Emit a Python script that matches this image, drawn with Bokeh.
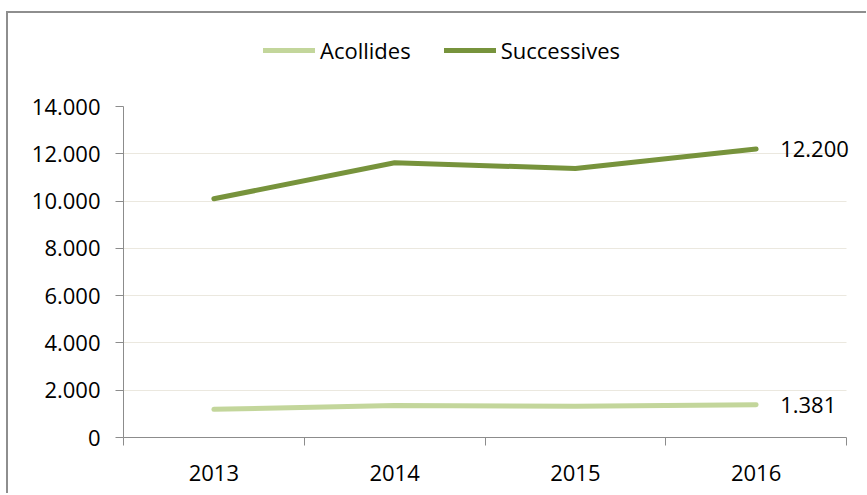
from bokeh.plotting import figure
from bokeh.layouts import column
from bokeh.models import ColumnDataSource, FixedTicker, Legend, LegendItem, LabelSet
from bokeh.core.properties import value
from bokeh.embed import file_html
from bokeh.resources import INLINE

years = ["2013", "2014", "2015", "2016"]
acollides = [1190, 1350, 1320, 1381]
successives = [10100, 11620, 11380, 12200]
y_ticks = [0, 2000, 4000, 6000, 8000, 10000, 12000, 14000]
y_tick_labels = ["0", "2.000", "4.000", "6.000", "8.000", "10.000", "12.000", "14.000"]
end_labels = ["1.381", "12.200"]
series_names = ["Acollides", "Successives"]

FONT = "Open Sans"
FS = "22px"
C_ACO = "#c3d69b"
C_SUC = "#77933c"
AXIS_C = "#8c8c8c"
W = 858
N = len(years)
# extra room right of the last category (in category units) for the end labels
X_PAD = 20 / 180.75

xs = [i + 0.5 for i in range(N)]
src_a = ColumnDataSource(dict(x=xs, y=acollides))
src_s = ColumnDataSource(dict(x=xs, y=successives))

# ---- legend strip (top) ----
lg = figure(width=W, height=60, output_backend="svg", toolbar_location=None,
            x_axis_type=None, y_axis_type=None, min_border=0, min_border_right=0,
            x_range=(0, 1), y_range=(-1, 0))
lg.outline_line_color = None
lg.xgrid.grid_line_color = None
lg.ygrid.grid_line_color = None
# same series, out of this strip's view: only their legend samples show
la = lg.line("x", "y", source=src_a, line_color=C_ACO, line_width=5, line_cap="round")
ls = lg.line("x", "y", source=src_s, line_color=C_SUC, line_width=5, line_cap="round")
legend = Legend(items=[LegendItem(label=series_names[0], renderers=[la]),
                       LegendItem(label=series_names[1], renderers=[ls])],
                orientation="horizontal", location=(140, 8),
                glyph_width=52, glyph_height=24, label_standoff=5, spacing=33,
                padding=0, margin=0, border_line_alpha=0, background_fill_alpha=0,
                label_text_font=FONT, label_text_font_size=FS, label_text_color="black",
                label_height=24)
lg.add_layout(legend, "center")

# ---- main chart ----
p = figure(width=W, height=420, output_backend="svg", toolbar_location=None,
           x_range=(0, N + X_PAD), y_range=(0, 14000),
           min_border_left=115, min_border_right=0, min_border_top=33, min_border_bottom=56)
p.outline_line_color = None
p.background_fill_color = "white"
p.border_fill_color = "white"

p.line("x", "y", source=src_a, line_color=C_ACO, line_width=5, line_cap="round", line_join="round")
p.line("x", "y", source=src_s, line_color=C_SUC, line_width=5, line_cap="round", line_join="round")

p.xaxis.bounds = (0, N)
p.xaxis.ticker = FixedTicker(ticks=xs, minor_ticks=list(range(N + 1)))
p.xaxis.major_label_overrides = {x: y for x, y in zip(xs, years)}
p.xaxis.major_tick_in = 0
p.xaxis.major_tick_out = 0
p.xaxis.minor_tick_in = 0
p.xaxis.minor_tick_out = 8
p.xaxis.minor_tick_line_color = AXIS_C
p.xaxis.axis_line_color = AXIS_C
p.xaxis.major_label_standoff = 19
p.xaxis.major_label_text_font = FONT
p.xaxis.major_label_text_font_size = FS
p.xaxis.major_label_text_color = "black"

p.yaxis.ticker = FixedTicker(ticks=y_ticks)
p.yaxis.major_label_overrides = {t: l for t, l in zip(y_ticks, y_tick_labels)}
p.yaxis.major_tick_in = 0
p.yaxis.major_tick_out = 8
p.yaxis.minor_tick_line_color = None
p.yaxis.major_tick_line_color = AXIS_C
p.yaxis.axis_line_color = AXIS_C
p.yaxis.major_label_standoff = 15
p.yaxis.major_label_text_font = FONT
p.yaxis.major_label_text_font_size = FS
p.yaxis.major_label_text_color = "black"

p.xgrid.grid_line_color = None
p.ygrid.ticker = FixedTicker(ticks=y_ticks[1:])
p.ygrid.cross_bounds = (0, N)
p.ygrid.grid_line_color = "#ebe8df"
p.ygrid.grid_line_width = 1

lab_src = ColumnDataSource(dict(x=[xs[-1], xs[-1]], y=[acollides[-1], successives[-1]], t=end_labels))
p.add_layout(LabelSet(x="x", y="y", text="t", source=lab_src, x_offset=24,
                      text_baseline="middle", text_font=value(FONT), text_font_size=value(FS),
                      text_color="black"))

layout = column(lg, p, spacing=0)
layout.styles = {"border-left": "2px solid #8e8e8e", "border-top": "2px solid #8e8e8e",
                 "margin-left": "6px", "margin-top": "11px"}

open("out.html", "w").write(file_html(layout, INLINE))
